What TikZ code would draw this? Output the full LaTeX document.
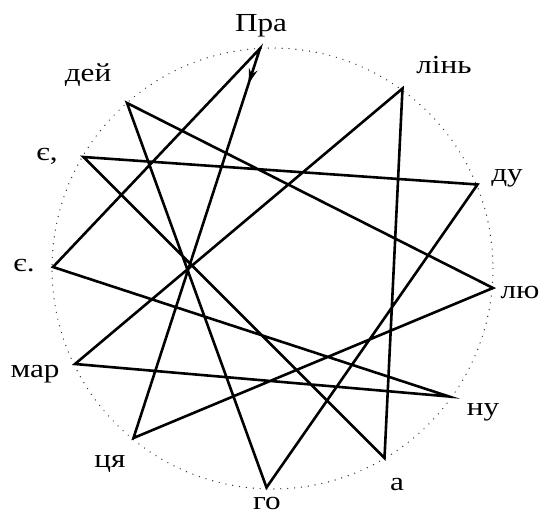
\documentclass[tikz,border=0pt]{standalone}
\usepackage{fontspec}
\setmainfont[FakeStretch=1.2]{Liberation Serif}
\usetikzlibrary{calc,arrows.meta}
\begin{document}
\begin{tikzpicture}[x=1pt,y=-1pt,
  pathline/.style={line width=2.6pt,black},
  rim/.style={line width=1.4pt,dash pattern=on 0pt off 6.9pt,line cap=round,black!80},
  syl/.style={font=\fontsize{26}{30}\selectfont,inner sep=0pt,anchor=base}]
\useasboundingbox (0,0) rectangle (547,514);
\draw[rim] (272.5,268.5) circle[radius=220.5];
\coordinate (pra) at (260,48.5);
\coordinate (lin) at (402.5,88.5);
\coordinate (du) at (477.5,184.5);
\coordinate (lyu) at (493,288);
\coordinate (nu) at (449,396.5);
\coordinate (a) at (384.5,458);
\coordinate (go) at (266.5,487.5);
\coordinate (tsya) at (133.5,438);
\coordinate (mar) at (75,364);
\coordinate (ye2) at (53,267);
\coordinate (ye1) at (83.5,157);
\coordinate (dey) at (127,103);
\node[syl] (tpra) at (261,31) {Пра};
\node[syl] (tlin) at (444,74) {лінь};
\node[syl] (tdu) at (507,181) {ду};
\node[syl] (tlyu) at (520,298) {лю};
\node[syl] (tnu) at (483,415) {ну};
\node[syl] (ta) at (397,490) {а};
\node[syl] (tgo) at (267,509) {го};
\node[syl] (ttsya) at (110,467) {ця};
\node[syl] (tmar) at (35,377) {мар};
\node[syl] (tye2) at (24,271) {є.};
\node[syl] (tye1) at (47,160) {є,};
\node[syl] (tdey) at (88,81) {дей};
\draw[pathline] (pra) -- (tsya) -- (lyu) -- (dey) -- (go) -- (du) -- (ye1) -- (a) -- (lin) -- (mar) -- (nu) -- (ye2) -- cycle;
\coordinate (arr) at ($(pra)!0.09!(tsya)$);
\draw[line width=1.6pt,-{Stealth[length=15pt,width=9pt,inset=5pt]}] (pra) -- (arr);
\end{tikzpicture}
\end{document}
